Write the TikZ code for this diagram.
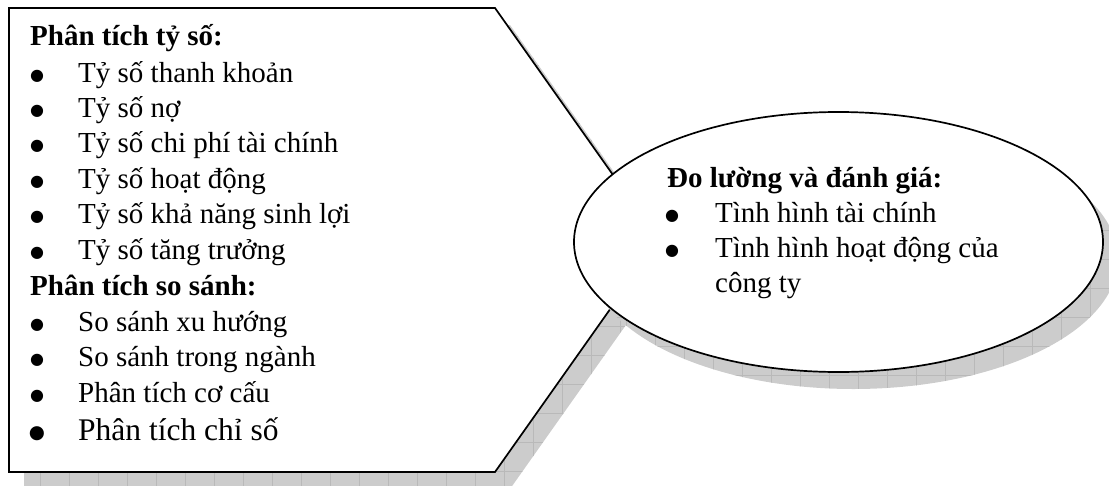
\documentclass[tikz,border=0pt]{standalone}
\usepackage{fontspec}
\setmainfont{Liberation Serif}
\newfontfamily\bulfont{DejaVu Sans}
\usetikzlibrary{shapes.geometric}
\begin{document}
\begin{tikzpicture}[x=1pt,y=-1pt,
  outline/.style={draw=black,line width=1.7pt,fill=white,line join=miter},
  shadowfill/.style={fill=gray!40},
  gridline/.style={draw=gray!55,line width=0.4pt},
  txt/.style={anchor=base west,inner sep=0pt,font=\fontsize{29}{35}\selectfont},
  hd/.style={anchor=base west,inner sep=0pt,font=\fontsize{29}{35}\selectfont\bfseries},
  bul/.style={anchor=base,inner sep=0pt,yshift=2pt,font=\bulfont\fontsize{16}{16}\selectfont},
  bigbul/.style={anchor=base,inner sep=0pt,yshift=1.5pt,font=\bulfont\fontsize{18.5}{18.5}\selectfont},
  bigtxt/.style={anchor=base west,inner sep=0pt,font=\fontsize{31.5}{38}\selectfont},
]
\useasboundingbox (0,0) rectangle (1109,485);
% ---- shadow of the pentagon
\begin{scope}[shift={(15,17)}]
  \fill[shadowfill] (9,8) -- (495,8) -- (659,240) -- (495,472) -- (9,472) -- cycle;
  \begin{scope}
    \clip (9,8) -- (495,8) -- (659,240) -- (495,472) -- (9,472) -- cycle;
    \foreach \g in {-4,25,...,700} \draw[gridline] (\g,-20) -- (\g,520);
    \foreach \g in {-10,19,...,520} \draw[gridline] (-20,\g) -- (720,\g);
  \end{scope}
\end{scope}
% ---- pentagon
\draw[outline] (9,8) -- (495,8) -- (659,240) -- (495,472) -- (9,472) -- cycle;
% ---- shadow of the ellipse
\begin{scope}[shift={(15,17)}]
  \fill[shadowfill] (838.5,242) ellipse [x radius=264.5, y radius=130];
  \begin{scope}
    \clip (838.5,242) ellipse [x radius=264.5, y radius=130];
    \foreach \g in {553,582,...,1130} \draw[gridline] (\g,90) -- (\g,400);
    \foreach \g in {97,126,...,400} \draw[gridline] (560,\g) -- (1130,\g);
  \end{scope}
\end{scope}
% ---- ellipse
\node[outline,ellipse,inner sep=0pt,minimum width=529,minimum height=260] (goal) at (838.5,242) {};
% ---- text of the pentagon
\node[hd] (h1) at (30,45) {Phân tích tỷ số:};
\node[bul] (b1) at (37,82) {●};  \node[txt] (t1) at (78,82) {Tỷ số thanh khoản};
\node[bul] (b2) at (37,117) {●}; \node[txt] (t2) at (78,117) {Tỷ số nợ};
\node[bul] (b3) at (37,152.5) {●}; \node[txt] (t3) at (78,152.5) {Tỷ số chi phí tài chính};
\node[bul] (b4) at (37,188) {●}; \node[txt] (t4) at (78,188) {Tỷ số hoạt động};
\node[bul] (b5) at (37,223.5) {●}; \node[txt] (t5) at (78,223.5) {Tỷ số khả năng sinh lợi};
\node[bul] (b6) at (37,259) {●}; \node[txt] (t6) at (78,259) {Tỷ số tăng trưởng};
\node[hd] (h2) at (30,295) {Phân tích so sánh:};
\node[bul] (b7) at (37,331) {●}; \node[txt] (t7) at (78,331) {So sánh xu hướng};
\node[bul] (b8) at (37,366.5) {●}; \node[txt] (t8) at (78,366.5) {So sánh trong ngành};
\node[bul] (b9) at (37,402) {●}; \node[txt] (t9) at (78,402) {Phân tích cơ cấu};
\node[bigbul] (b10) at (37,440) {●}; \node[bigtxt] (t10) at (78,440) {Phân tích chỉ số};
% ---- text of the ellipse
\node[hd] (h3) at (667,187) {Đo lường và đánh giá:};
\node[bul] (e1) at (672,222) {●}; \node[txt] (f1) at (715,222) {Tình hình tài chính};
\node[bul] (e2) at (672,257) {●}; \node[txt] (f2) at (715,257) {Tình hình hoạt động của};
\node[txt] (f3) at (715,292) {công ty};
\end{tikzpicture}
\end{document}
